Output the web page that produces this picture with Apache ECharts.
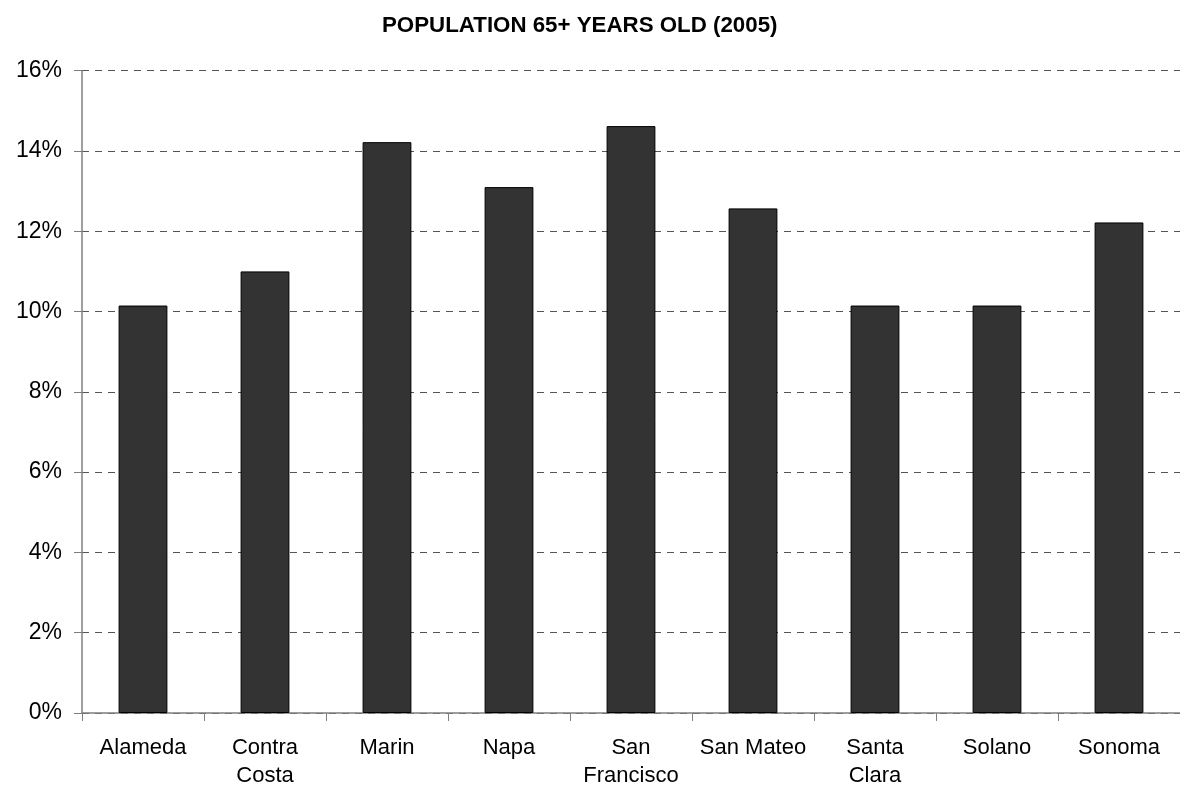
<!DOCTYPE html>
<html>
<head>
<meta charset="utf-8">
<script src="https://cdn.jsdelivr.net/npm/echarts@6/dist/echarts.min.js"></script>
<style>
  html, body { margin: 0; padding: 0; background: #ffffff; }
  #chart { width: 1180px; height: 790px; }
</style>
</head>
<body>
<div id="chart"></div>
<script>
// Share of population aged 65 and over, Bay Area counties, 2005 (percent)
const counties = ['Alameda', 'Contra\nCosta', 'Marin', 'Napa', 'San\nFrancisco', 'San Mateo', 'Santa\nClara', 'Solano', 'Sonoma'];
const share65 = [10.15, 11.0, 14.22, 13.1, 14.62, 12.57, 10.15, 10.15, 12.22];
const yTicks = { min: 0, max: 16, interval: 2 };
const chartTitle = 'POPULATION 65+ YEARS OLD (2005)';

const FONT = '"Liberation Sans", Arial, Helvetica, sans-serif';
const chart = echarts.init(document.getElementById('chart'), null, { renderer: 'canvas' });

chart.setOption({
  animation: false,
  backgroundColor: '#ffffff',
  title: {
    text: chartTitle,
    left: 377,
    top: 10,
    textStyle: { fontFamily: FONT, fontSize: 22.3, fontWeight: 'bold', color: '#000000' }
  },
  grid: { left: 82, right: -3, top: 70.7, bottom: 76.7, containLabel: false },
  xAxis: {
    type: 'category',
    data: counties,
    axisLine: { show: true, lineStyle: { color: '#7f7f7f', width: 1.5 } },
    axisTick: { show: true, alignWithLabel: false, length: 8, lineStyle: { color: '#7f7f7f', width: 1 } },
    axisLabel: {
      interval: 0,
      margin: 21,
      fontFamily: FONT,
      fontSize: 22,
      lineHeight: 28,
      color: '#000000'
    },
    splitLine: { show: false }
  },
  yAxis: {
    type: 'value',
    min: yTicks.min,
    max: yTicks.max,
    interval: yTicks.interval,
    axisLine: { show: true, lineStyle: { color: '#7f7f7f', width: 1.5 } },
    axisTick: { show: true, inside: false, length: 8, lineStyle: { color: '#7f7f7f', width: 1 } },
    axisLabel: {
      margin: 20,
      fontFamily: FONT,
      fontSize: 23,
      color: '#000000',
      formatter: v => v + '%'
    },
    splitLine: { show: true, lineStyle: { color: '#555555', width: 1, type: [7, 6] } }
  },
  series: [{
    type: 'bar',
    data: share65,
    barWidth: '40%',
    itemStyle: { color: '#333333', borderColor: '#000000', borderWidth: 1 }
  }]
});
</script>
</body>
</html>
